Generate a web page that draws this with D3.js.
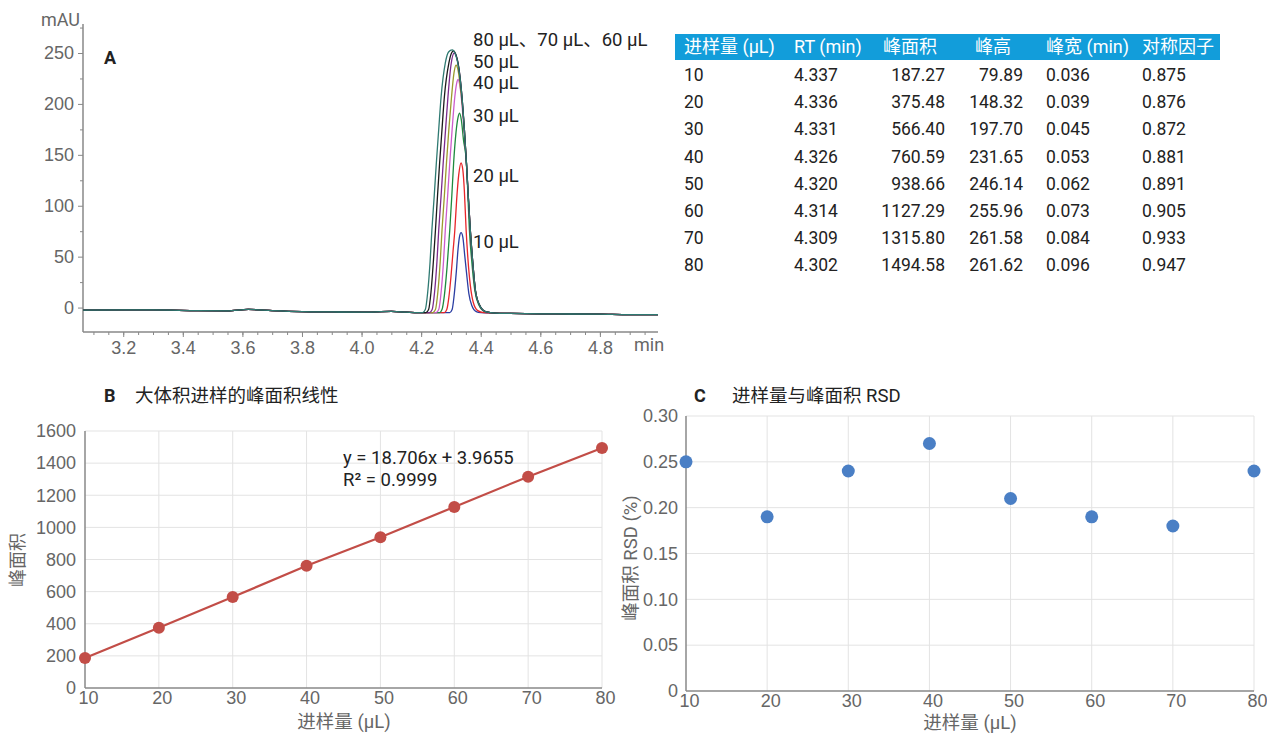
<!DOCTYPE html>
<html>
<head>
<meta charset="utf-8">
<script src="https://cdn.jsdelivr.net/npm/d3@7"></script>
<style>
  body { margin: 0; background: #fff; }
  svg { font-family: Roboto, "Noto Sans CJK SC", sans-serif; }
  .tick text { fill: #666; }
</style>
</head>
<body>
<svg id="chart" width="1267" height="734"></svg>
<script>
// ---- data ----
const injVol = [10, 20, 30, 40, 50, 60, 70, 80];
const rtMin = ['4.337', '4.336', '4.331', '4.326', '4.320', '4.314', '4.309', '4.302'];
const peakArea = [187.27, 375.48, 566.40, 760.59, 938.66, 1127.29, 1315.80, 1494.58];
const peakHeight = ['79.89', '148.32', '197.70', '231.65', '246.14', '255.96', '261.58', '261.62'];
const peakWidth = ['0.036', '0.039', '0.045', '0.053', '0.062', '0.073', '0.084', '0.096'];
const symFactor = ['0.875', '0.876', '0.872', '0.881', '0.891', '0.905', '0.933', '0.947'];
const areaRsd = [0.25, 0.19, 0.24, 0.27, 0.21, 0.19, 0.18, 0.24];
const tableHeaders = ['进样量 (µL)', 'RT (min)', '峰面积', '峰高', '峰宽 (min)', '对称因子'];
const fitText = ['y = 18.706x + 3.9655', 'R² = 0.9999'];

// chromatogram traces, [min, mAU]
const baseline = [[3.065, -2.5], [3.3, -2.3], [3.45, -3], [3.55, -3.2], [3.62, -1.8], [3.7, -3], [3.8, -4],
  [3.9, -4.3], [4.0, -4.5], [4.1, -3.8], [4.15, -4.5], [4.19, -5],
  [4.45, -5.5], [4.5, -5.8], [4.6, -6.2], [4.7, -6.3], [4.8, -6.5], [4.9, -7], [4.995, -7]];
const peak10 = [[4.296, -5], [4.304, -2], [4.310, 10], [4.318, 35], [4.324, 58], [4.329, 70], [4.334, 73.5],
  [4.340, 69], [4.346, 52], [4.352, 35], [4.360, 14], [4.370, 2], [4.385, -4], [4.40, -5]];
const peak20 = [[4.278, -5], [4.286, -2], [4.293, 10], [4.300, 30], [4.307, 55], [4.313, 76], [4.319, 105],
  [4.326, 130], [4.334, 142], [4.340, 135], [4.345, 115], [4.351, 76], [4.357, 48], [4.365, 22],
  [4.375, 5], [4.39, -3], [4.41, -5]];
const peak30 = [[4.262, -5], [4.270, -2], [4.278, 12], [4.287, 40], [4.296, 76], [4.303, 110], [4.309, 142],
  [4.317, 172], [4.324, 187], [4.329, 191], [4.335, 184], [4.342, 165], [4.352, 142], [4.357, 110],
  [4.362, 76], [4.370, 45], [4.380, 17], [4.393, 3], [4.414, -4]];
const peak40 = [[4.250, -5], [4.259, -2], [4.267, 15], [4.275, 45], [4.281, 76], [4.289, 110], [4.296, 142],
  [4.304, 175], [4.313, 207], [4.319, 220], [4.324, 224], [4.330, 218], [4.336, 203], [4.343, 178],
  [4.352, 142], [4.358, 110], [4.365, 76], [4.373, 45], [4.382, 17], [4.395, 3], [4.416, -4]];
const peak50 = [[4.239, -5], [4.248, -2], [4.256, 15], [4.264, 45], [4.270, 76], [4.278, 110], [4.285, 142],
  [4.293, 175], [4.302, 207], [4.310, 230], [4.317, 238], [4.324, 233], [4.331, 218], [4.337, 203],
  [4.345, 175], [4.352, 142], [4.358, 110], [4.365, 76], [4.373, 45], [4.382, 17], [4.395, 3], [4.416, -4]];
const peak60 = [[4.228, -5], [4.237, -2], [4.245, 15], [4.253, 45], [4.259, 76], [4.267, 110], [4.274, 142],
  [4.282, 175], [4.290, 207], [4.300, 238], [4.311, 250], [4.319, 246], [4.326, 236], [4.337, 207],
  [4.345, 175], [4.352, 142], [4.358, 110], [4.365, 76], [4.373, 45], [4.382, 17], [4.395, 3], [4.416, -4]];
const peak70 = [[4.216, -5], [4.225, -2], [4.233, 15], [4.241, 45], [4.248, 76], [4.255, 110], [4.262, 142],
  [4.270, 175], [4.278, 207], [4.293, 240], [4.302, 250], [4.309, 252], [4.317, 248], [4.324, 240],
  [4.337, 207], [4.345, 175], [4.352, 142], [4.358, 110], [4.365, 76], [4.373, 45], [4.382, 17],
  [4.395, 3], [4.416, -4]];
const peak80 = [[4.205, -5], [4.214, -2], [4.222, 15], [4.230, 45], [4.236, 76], [4.244, 110], [4.251, 142],
  [4.259, 175], [4.267, 207], [4.281, 240], [4.292, 251], [4.304, 253], [4.316, 248], [4.323, 240],
  [4.337, 207], [4.345, 175], [4.352, 142], [4.358, 110], [4.365, 76], [4.373, 45], [4.382, 17],
  [4.395, 3], [4.416, -4]];
const peaks = [peak10, peak20, peak30, peak40, peak50, peak60, peak70, peak80];
const traceColors = ['#2b3ea3', '#e8262a', '#1e8a3e', '#cc5ccc', '#9b9a2c', '#7b2a8c', '#1b1b1b', '#2f7a72'];
const peakLabels = ['10 µL', '20 µL', '30 µL', '40 µL', '50 µL', '80 µL、70 µL、60 µL'];
const peakLabelY = [242, 176, 116, 83, 62, 40];

const svg = d3.select('#chart');
svg.append('rect').attr('width', 1267).attr('height', 734).attr('fill', '#fff');

function styleAxis(g) {
  g.select('.domain').remove();
  g.selectAll('.tick line').attr('stroke', '#888');
}

// ---- panel A: chromatogram ----
let xA = d3.scaleLinear().domain([3.065, 4.995]).range([83, 658]),
  yA = d3.scaleLinear().domain([-24, 278]).range([332, 24.5]);

let gA = svg.append('g');
gA.append('g').attr('transform', 'translate(83,0)')
  .call(d3.axisLeft(yA).tickValues([25, 75, 125, 175, 225, 275]).tickSize(3).tickFormat(''))
  .call(styleAxis);
gA.append('g').attr('transform', 'translate(83,0)')
  .call(d3.axisLeft(yA).tickValues([0, 50, 100, 150, 200, 250]).tickSize(5).tickPadding(4))
  .call(styleAxis)
  .selectAll('text').style('font-size', '18px');
gA.append('g').attr('transform', 'translate(0,332)')
  .call(d3.axisBottom(xA).tickValues(d3.range(3.1, 4.99, 0.05)).tickSize(3).tickFormat(''))
  .call(styleAxis);
gA.append('g').attr('transform', 'translate(0,332)')
  .call(d3.axisBottom(xA).tickValues([3.2, 3.4, 3.6, 3.8, 4.0, 4.2, 4.4, 4.6, 4.8]).tickSize(5)
    .tickPadding(4).tickFormat(d3.format('.1f')))
  .call(styleAxis)
  .selectAll('text').style('font-size', '18px');
gA.append('line').attr('x1', 83).attr('x2', 83).attr('y1', 24).attr('y2', 332)
  .attr('stroke', '#888').attr('stroke-width', 1.5);
gA.append('line').attr('x1', 83).attr('x2', 658).attr('y1', 332).attr('y2', 332)
  .attr('stroke', '#888').attr('stroke-width', 1.5);
gA.append('text').attr('x', 80).attr('y', 26).attr('text-anchor', 'end')
  .attr('fill', '#666').style('font-size', '18px').text('mAU');
gA.append('text').attr('x', 634).attr('y', 351)
  .attr('fill', '#666').style('font-size', '18px').text('min');
gA.append('text').attr('x', 104).attr('y', 64)
  .attr('fill', '#222').style('font-size', '18px').style('font-weight', 'bold').text('A');

let traceLine = d3.line().x(d => xA(d[0])).y(d => yA(d[1])).curve(d3.curveMonotoneX);
peaks.forEach(function (pk, i) {
  let pts = baseline.filter(d => d[0] < pk[0][0])
    .concat(pk)
    .concat(baseline.filter(d => d[0] > pk[pk.length - 1][0]));
  gA.append('path').datum(pts)
    .attr('d', traceLine)
    .attr('fill', 'none')
    .attr('stroke', traceColors[i])
    .attr('stroke-width', 1.3);
});
gA.selectAll('.plabel').data(peakLabels).enter().append('text')
  .attr('class', 'plabel')
  .attr('x', 473)
  .attr('y', (d, i) => peakLabelY[i] + 6)
  .attr('fill', '#222')
  .style('font-size', '18.5px')
  .text(d => d);

// ---- table ----
let colX = [684, 794, 945, 1023, 1046, 1142],
  colAnchor = ['start', 'start', 'end', 'end', 'start', 'start'],
  headX = [684, 794, 883, 975, 1046, 1142];
let gT = svg.append('g');
gT.append('rect').attr('x', 675).attr('y', 34).attr('width', 545).attr('height', 26).attr('fill', '#129dda');
gT.selectAll('.th').data(tableHeaders).enter().append('text')
  .attr('x', (d, i) => headX[i]).attr('y', 53)
  .attr('fill', '#fff').style('font-size', '18px')
  .text(d => d);
let rows = injVol.map((v, i) => [String(v), rtMin[i], peakArea[i].toFixed(2), peakHeight[i], peakWidth[i], symFactor[i]]);
rows.forEach(function (row, r) {
  gT.selectAll('.r' + r).data(row).enter().append('text')
    .attr('x', (d, i) => colX[i])
    .attr('y', 81 + r * 27.2)
    .attr('text-anchor', (d, i) => colAnchor[i])
    .attr('fill', '#222').style('font-size', '17.5px')
    .text(d => d);
});

// ---- panel B: linearity ----
let xB = d3.scaleLinear().domain([10, 80]).range([85, 602]),
  yB = d3.scaleLinear().domain([0, 1600]).range([688, 431]);
let gB = svg.append('g');
gB.append('g').selectAll('line').data([20, 30, 40, 50, 60, 70, 80]).enter().append('line')
  .attr('x1', d => xB(d)).attr('x2', d => xB(d)).attr('y1', 431).attr('y2', 688)
  .attr('stroke', '#e3e3e3');
gB.append('g').selectAll('line').data(d3.range(200, 1601, 200)).enter().append('line')
  .attr('x1', 85).attr('x2', 602).attr('y1', d => yB(d)).attr('y2', d => yB(d))
  .attr('stroke', '#e3e3e3');
gB.append('g').attr('transform', 'translate(85,0)')
  .call(d3.axisLeft(yB).tickValues(d3.range(0, 1601, 200)).tickSize(0).tickPadding(9)
    .tickFormat(d3.format('d')))
  .call(styleAxis)
  .selectAll('text').style('font-size', '18px');
gB.append('g').attr('transform', 'translate(0,688)')
  .call(d3.axisBottom(xB).tickValues(injVol).tickSize(0).tickPadding(3))
  .call(styleAxis)
  .selectAll('text').style('font-size', '18px').attr('dx', 3);
gB.append('line').attr('x1', 85).attr('x2', 85).attr('y1', 431).attr('y2', 688)
  .attr('stroke', '#888').attr('stroke-width', 1.5);
gB.append('line').attr('x1', 85).attr('x2', 602).attr('y1', 688).attr('y2', 688)
  .attr('stroke', '#888').attr('stroke-width', 1.5);
gB.append('path').datum(injVol)
  .attr('d', d3.line().x(d => xB(d)).y((d, i) => yB(peakArea[i])))
  .attr('fill', 'none').attr('stroke', '#c24d47').attr('stroke-width', 2.2);
gB.selectAll('circle').data(injVol).enter().append('circle')
  .attr('cx', d => xB(d)).attr('cy', (d, i) => yB(peakArea[i])).attr('r', 6)
  .attr('fill', '#c24d47');
gB.selectAll('.fit').data(fitText).enter().append('text')
  .attr('x', 343).attr('y', (d, i) => 464 + i * 22)
  .attr('fill', '#222').style('font-size', '18.5px')
  .text(d => d);
gB.append('text').attr('x', 104).attr('y', 402)
  .attr('fill', '#222').style('font-size', '18px').style('font-weight', 'bold').text('B');
gB.append('text').attr('x', 135).attr('y', 402)
  .attr('fill', '#222').style('font-size', '18.5px').text('大体积进样的峰面积线性');
gB.append('text').attr('transform', 'translate(24,560) rotate(-90)').attr('text-anchor', 'middle')
  .attr('fill', '#666').style('font-size', '18px').text('峰面积');
gB.append('text').attr('x', 344).attr('y', 728).attr('text-anchor', 'middle')
  .attr('fill', '#666').style('font-size', '18.5px').text('进样量 (µL)');

// ---- panel C: RSD ----
let xC = d3.scaleLinear().domain([10, 80]).range([686, 1254]),
  yC = d3.scaleLinear().domain([0, 0.30]).range([691, 416]);
let gC = svg.append('g');
gC.append('g').selectAll('line').data([20, 30, 40, 50, 60, 70, 80]).enter().append('line')
  .attr('x1', d => xC(d)).attr('x2', d => xC(d)).attr('y1', 416).attr('y2', 691)
  .attr('stroke', '#e3e3e3');
gC.append('g').selectAll('line').data([0.05, 0.10, 0.15, 0.20, 0.25, 0.30]).enter().append('line')
  .attr('x1', 686).attr('x2', 1254).attr('y1', d => yC(d)).attr('y2', d => yC(d))
  .attr('stroke', '#e3e3e3');
gC.append('g').attr('transform', 'translate(686,0)')
  .call(d3.axisLeft(yC).tickValues([0, 0.05, 0.10, 0.15, 0.20, 0.25, 0.30]).tickSize(0).tickPadding(8)
    .tickFormat(d => d === 0 ? '0' : d3.format('.2f')(d)))
  .call(styleAxis)
  .selectAll('text').style('font-size', '18px');
gC.append('g').attr('transform', 'translate(0,691)')
  .call(d3.axisBottom(xC).tickValues(injVol).tickSize(0).tickPadding(3))
  .call(styleAxis)
  .selectAll('text').style('font-size', '18px').attr('dx', 3);
gC.append('line').attr('x1', 686).attr('x2', 686).attr('y1', 416).attr('y2', 691)
  .attr('stroke', '#888').attr('stroke-width', 1.5);
gC.append('line').attr('x1', 686).attr('x2', 1254).attr('y1', 691).attr('y2', 691)
  .attr('stroke', '#888').attr('stroke-width', 1.5);
gC.selectAll('circle').data(injVol).enter().append('circle')
  .attr('cx', d => xC(d)).attr('cy', (d, i) => yC(areaRsd[i])).attr('r', 6.5)
  .attr('fill', '#4a7fc5');
gC.append('text').attr('x', 694).attr('y', 402)
  .attr('fill', '#222').style('font-size', '18px').style('font-weight', 'bold').text('C');
gC.append('text').attr('x', 732).attr('y', 402)
  .attr('fill', '#222').style('font-size', '18.5px').text('进样量与峰面积 RSD');
gC.append('text').attr('transform', 'translate(637,558) rotate(-90)').attr('text-anchor', 'middle')
  .attr('fill', '#666').style('font-size', '18.5px').text('峰面积 RSD (%)');
gC.append('text').attr('x', 970).attr('y', 729).attr('text-anchor', 'middle')
  .attr('fill', '#666').style('font-size', '18.5px').text('进样量 (µL)');
</script>
</body>
</html>
